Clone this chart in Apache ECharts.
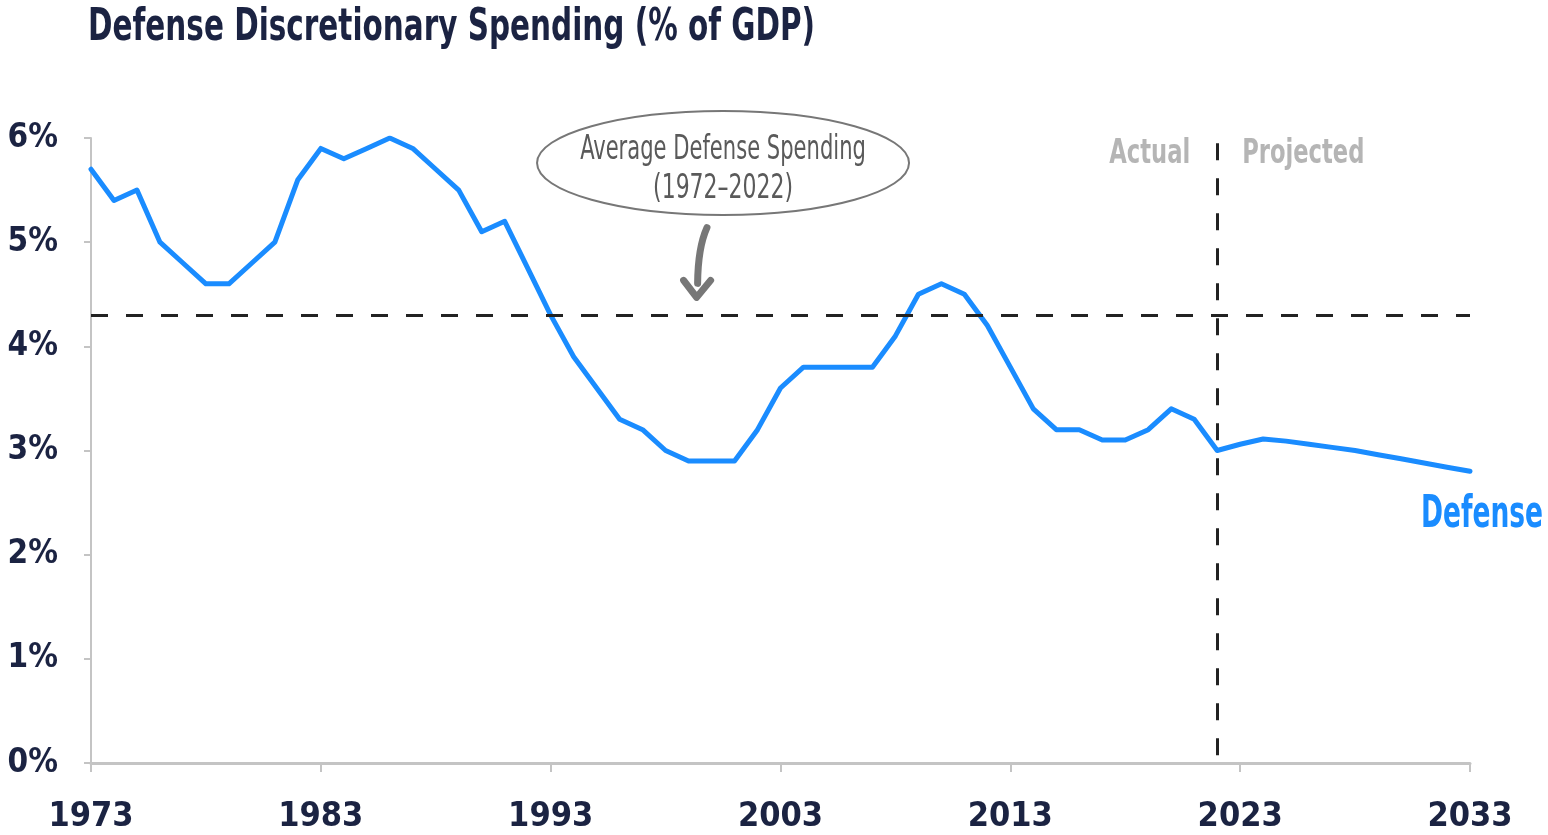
<!DOCTYPE html>
<html>
<head>
<meta charset="utf-8">
<script src="https://cdn.jsdelivr.net/npm/echarts@6/dist/echarts.min.js"></script>
<style>
  html, body { margin: 0; padding: 0; background: #ffffff; }
  #chart { width: 1548px; height: 835px; }
</style>
</head>
<body>
<div id="chart"></div>
<script>
// Defense discretionary outlays as a share of GDP, fiscal years 1973-2033
const years = [];
for (let y = 1973; y <= 2033; y++) years.push(String(y));

const defense = [
  5.7, 5.4, 5.5, 5.0, 4.8, 4.6, 4.6, 4.8, 5.0, 5.6,      // 1973-1982
  5.9, 5.8, 5.9, 6.0, 5.9, 5.7, 5.5, 5.1, 5.2, 4.75,     // 1983-1992
  4.3, 3.9, 3.6, 3.3, 3.2, 3.0, 2.9, 2.9, 2.9, 3.2,      // 1993-2002
  3.6, 3.8, 3.8, 3.8, 3.8, 4.1, 4.5, 4.6, 4.5, 4.2,      // 2003-2012
  3.8, 3.4, 3.2, 3.2, 3.1, 3.1, 3.2, 3.4, 3.3, 3.0,      // 2013-2022
  3.06, 3.11, 3.09, 3.06, 3.03, 3.0, 2.96, 2.92, 2.88, 2.84, // 2023-2032
  2.8                                                    // 2033
];

const averageLevel = 4.3;      // 1972-2022 average
const splitYear = '2022';      // last actual year
const yTicks = [0, 1, 2, 3, 4, 5, 6];

const navy = '#1b2342';
const blue = '#1a8cff';
const condensed = "'Liberation Sans Narrow', 'DejaVu Sans Condensed', sans-serif";

const chart = echarts.init(document.getElementById('chart'));

chart.setOption({
  animation: false,
  backgroundColor: '#ffffff',
  grid: { left: 91, right: 78, top: 138, bottom: 72 },
  xAxis: {
    type: 'category',
    data: years,
    boundaryGap: false,
    axisLine: { lineStyle: { color: '#c4c4c4', width: 3 } },
    axisTick: { interval: 9, length: 9, lineStyle: { color: '#c4c4c4', width: 2 } },
    axisLabel: {
      interval: 9, margin: 37,
      fontFamily: condensed, fontWeight: 'bold', fontSize: 34, color: navy
    },
    splitLine: { show: false }
  },
  yAxis: {
    type: 'value',
    min: yTicks[0],
    max: yTicks[yTicks.length - 1],
    interval: 1,
    axisLine: { show: true, lineStyle: { color: '#c4c4c4', width: 2 } },
    axisTick: { show: true, length: 7, lineStyle: { color: '#c4c4c4', width: 2 } },
    axisLabel: {
      margin: 33, formatter: '{value}%',
      fontFamily: condensed, fontWeight: 'bold', fontSize: 33, color: navy
    },
    splitLine: { show: false }
  },
  series: [{
    type: 'line',
    data: defense,
    symbol: 'none',
    lineStyle: { color: blue, width: 5, join: 'round', cap: 'round' },
    z: 3,
    markLine: {
      silent: true,
      symbol: 'none',
      label: { show: false },
      lineStyle: { color: '#222222', width: 3, type: [17, 18] },
      data: [
        [{ coord: [years[0], averageLevel] }, { coord: [years[years.length - 1], averageLevel] }],
        [{ coord: [splitYear, 5.95] }, { coord: [splitYear, 0] }]
      ]
    }
  }]
});

// Annotations placed in data space and converted to pixels
const x0 = chart.convertToPixel({ xAxisIndex: 0 }, years[0]);
const x1 = chart.convertToPixel({ xAxisIndex: 0 }, years[years.length - 1]);
const px = (yr) => x0 + (yr - 1973) * (x1 - x0) / (2033 - 1973);
const py = (v) => chart.convertToPixel({ yAxisIndex: 0 }, v);

const splitX = chart.convertToPixel({ xAxisIndex: 0 }, splitYear);
const ecx = px(2000.5), ecy = py(5.76);
const arrowTop = [px(1999.8), py(5.14)];
const arrowTip = [px(1999.35), py(4.47)];
const grey = '#777777';

chart.setOption({
  graphic: [
    {
      type: 'text',
      x: 88, y: 29,
      scaleX: 0.745,
      style: {
        text: 'Defense Discretionary Spending (% of GDP)', textAlign: 'left', textVerticalAlign: 'middle',
        fontFamily: condensed, fontWeight: 'bold', fontSize: 44, fill: navy
      }
    },
    {
      type: 'ellipse',
      shape: { cx: ecx, cy: ecy, rx: 186, ry: 52 },
      style: { fill: 'none', stroke: grey, lineWidth: 2 },
      z: 10
    },
    {
      type: 'text',
      x: ecx, y: ecy - 13,
      scaleX: 0.71,
      style: {
        text: 'Average Defense Spending', textAlign: 'center', textVerticalAlign: 'middle',
        fontFamily: condensed, fontSize: 33, fill: '#5a5a5a'
      },
      z: 10
    },
    {
      type: 'text',
      x: ecx, y: ecy + 26,
      scaleX: 0.74,
      style: {
        text: '(1972\u20132022)', textAlign: 'center', textVerticalAlign: 'middle',
        fontFamily: condensed, fontSize: 33, fill: '#5a5a5a'
      },
      z: 10
    },
    {
      type: 'bezierCurve',
      shape: {
        x1: arrowTop[0], y1: arrowTop[1],
        x2: arrowTip[0] + 1, y2: arrowTip[1] - 14,
        cpx1: arrowTop[0] - 9, cpy1: arrowTop[1] + 20
      },
      style: { stroke: grey, lineWidth: 7, fill: 'none', lineCap: 'round' },
      z: 10
    },
    {
      type: 'polyline',
      shape: {
        points: [
          [arrowTip[0] - 13, arrowTip[1] - 17],
          [arrowTip[0], arrowTip[1]],
          [arrowTip[0] + 14, arrowTip[1] - 17]
        ]
      },
      style: { stroke: grey, lineWidth: 7, fill: 'none', lineCap: 'round', lineJoin: 'round' },
      z: 10
    },
    {
      type: 'text',
      x: splitX - 27, y: py(5.84),
      scaleX: 0.74,
      style: {
        text: 'Actual', textAlign: 'right', textVerticalAlign: 'middle',
        fontFamily: condensed, fontWeight: 'bold', fontSize: 34, fill: '#b5b5b5'
      }
    },
    {
      type: 'text',
      x: splitX + 25, y: py(5.84),
      scaleX: 0.74,
      style: {
        text: 'Projected', textAlign: 'left', textVerticalAlign: 'middle',
        fontFamily: condensed, fontWeight: 'bold', fontSize: 34, fill: '#b5b5b5'
      }
    },
    {
      type: 'text',
      x: px(2033) + 12, y: py(2.38),
      scaleX: 0.67,
      style: {
        text: 'Defense', textAlign: 'center', textVerticalAlign: 'middle',
        fontFamily: condensed, fontWeight: 'bold', fontSize: 44, fill: blue
      }
    }
  ]
});
</script>
</body>
</html>
